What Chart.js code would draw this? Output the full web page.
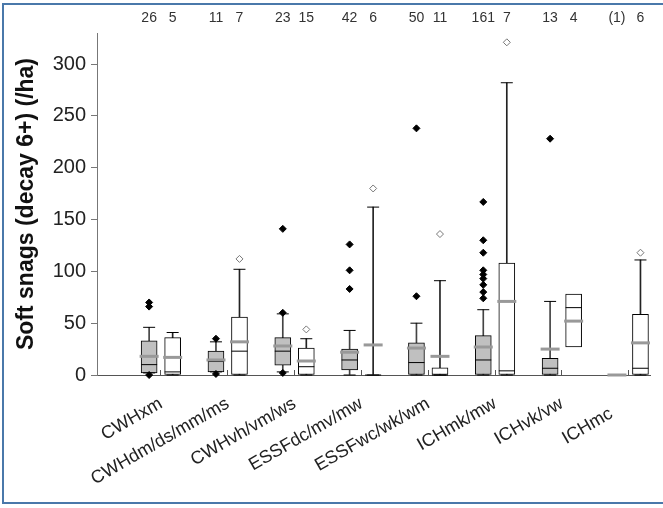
<!DOCTYPE html>
<html>
<head>
<meta charset="utf-8">
<script src="https://cdn.jsdelivr.net/npm/chart.js@4.4.1/dist/chart.umd.min.js"></script>
<style>
  html, body { margin: 0; padding: 0; background: #fff; overflow: hidden; }
  #wrap { position: relative; width: 663px; height: 508px; }
  #chart { position: absolute; left: 0; top: 0; }
  #frame {
    position: absolute; left: 2px; top: 3px; width: 720px; height: 497px;
    border: 2px solid #4a78aa; border-right: none; pointer-events: none;
  }
</style>
</head>
<body>
<div id="wrap">
  <canvas id="chart" width="663" height="508"></canvas>
  <div id="frame"></div>
</div>
<script>
// zone groups on the x axis (last one is pulled in a little, like the original)
const groups = ['CWHxm', 'CWHdm/ds/mm/ms', 'CWHvh/vm/ws', 'ESSFdc/mv/mw', 'ESSFwc/wk/wm', 'ICHmk/mw', 'ICHvk/vw', 'ICHmc    '];

// sample sizes printed above each box
const countsGrey = ['26', '11', '23', '42', '50', '161', '13', '(1)'];
const countsWhite = ['5', '7', '15', '6', '11', '7', '4', '6'];

// grey boxes
const greyQ1 = [2, 3, 9.6, 5, 0, 0, 0, null];
const greyQ3 = [33, 23, 36, 25, 31, 38, 16, null];
const greyMedian = [10, 13, 23, 14.5, 12, 14.5, 6.5, null];
const greyMean = [18, 14.5, 28, 22, 26, 27, 25, 0];
const greyLow = [2, 3, 3, 0, 0, 0, 0, null];
const greyHigh = [46, 32, 59, 43, 50, 63, 71, null];
const greyOutliers = [[66, 70, 0], [35, 1], [141, 60, 2], [83, 101, 126], [76, 238], [74, 80, 87, 93, 97, 101, 118, 130, 167], [228], []];

// white boxes
const whiteQ1 = [0, 0, 0, 0, 0, 0, 27, 0];
const whiteQ3 = [36, 56, 26, 0, 7, 108, 78, 58.5];
const whiteMedian = [3, 23, 8, 0, 0, 4, 65, 6.5];
const whiteMean = [17, 32, 13.5, 29, 18, 71, 52, 31];
const whiteLow = [0, 0, 0, 0, 0, 0, null, 0];
const whiteHigh = [41, 102, 35, 162, 91, 282, null, 111];
const whiteOutliers = [[], [112], [44], [180], [136], [321], [], [118]];

const yTicks = [0, 50, 100, 150, 200, 250, 300];

const SHIFT = 0.176;   // half distance between the two boxes of a group
const X_MIN = -0.956, X_MAX = 7.32;
const FONT = "'Liberation Sans', Arial, sans-serif";

const gx = i => i - SHIFT;
const wx = i => i + SHIFT;

function boxes(q1, q3, pos) {
  return q1.map((v, i) => v == null ? null : { x: pos(i), y: [v, q3[i]] }).filter(Boolean);
}
function whiskers(low, high, pos) {
  return low.map((v, i) => v == null ? null : { x: pos(i), y: [v, high[i]] }).filter(Boolean);
}
function points(vals, pos) {
  return vals.map((v, i) => v == null ? null : { x: pos(i), y: v }).filter(Boolean);
}
function outliers(list, pos) {
  const out = [];
  list.forEach((arr, i) => arr.forEach(v => out.push({ x: pos(i), y: v })));
  return out;
}

const topPositions = [];
const topLabels = [];
groups.forEach((g, i) => {
  topPositions.push(gx(i), wx(i));
  topLabels.push(countsGrey[i], countsWhite[i]);
});

const marker = (data, opts) => Object.assign({
  type: 'scatter', data, showLine: false, clip: false, order: 1,
  pointHoverRadius: 0
}, opts);

const ctx = document.getElementById('chart');
new Chart(ctx, {
  type: 'bar',
  data: {
    datasets: [
      { data: whiskers(greyLow, greyHigh, gx), backgroundColor: '#444', barThickness: 1, grouped: false, order: 10 },
      { data: whiskers(whiteLow, whiteHigh, wx), backgroundColor: '#222', barThickness: 1, grouped: false, order: 10 },
      { data: boxes(greyQ1, greyQ3, gx), backgroundColor: '#c0c0c0', borderColor: '#000', borderWidth: 1,
        borderSkipped: false, barThickness: 16, grouped: false, order: 5 },
      { data: boxes(whiteQ1, whiteQ3, wx), backgroundColor: '#fff', borderColor: '#000', borderWidth: 1,
        borderSkipped: false, barThickness: 16, grouped: false, order: 5 },
      marker(points(greyHigh, gx), { pointStyle: 'line', pointRadius: 6, pointBorderColor: '#000', pointBorderWidth: 1 }),
      marker(points(greyLow, gx), { pointStyle: 'line', pointRadius: 6, pointBorderColor: '#000', pointBorderWidth: 1 }),
      marker(points(whiteHigh, wx), { pointStyle: 'line', pointRadius: 6, pointBorderColor: '#000', pointBorderWidth: 1 }),
      marker(points(whiteLow, wx), { pointStyle: 'line', pointRadius: 6, pointBorderColor: '#000', pointBorderWidth: 1 }),
      marker(points(greyMedian, gx), { pointStyle: 'line', pointRadius: 8, pointBorderColor: '#000', pointBorderWidth: 1 }),
      marker(points(whiteMedian, wx), { pointStyle: 'line', pointRadius: 8, pointBorderColor: '#000', pointBorderWidth: 1 }),
      marker(points(greyMean, gx), { pointStyle: 'line', pointRadius: 9.5, pointBorderColor: '#999', pointBorderWidth: 3, order: 0 }),
      marker(points(whiteMean, wx), { pointStyle: 'line', pointRadius: 9.5, pointBorderColor: '#999', pointBorderWidth: 3, order: 0 }),
      marker(outliers(greyOutliers, gx), { pointStyle: 'rectRot', pointRadius: 3.5, pointBackgroundColor: '#000', pointBorderColor: '#000', pointBorderWidth: 1, order: 0 }),
      marker(outliers(whiteOutliers, wx), { pointStyle: 'rectRot', pointRadius: 3.5, pointBackgroundColor: '#fff', pointBorderColor: '#777', pointBorderWidth: 1, order: 0 })
    ]
  },
  options: {
    responsive: false,
    animation: false,
    devicePixelRatio: 1,
    events: [],
    layout: { padding: { left: 8, right: 3, top: 4, bottom: 6 } },
    plugins: { legend: { display: false }, tooltip: { enabled: false } },
    scales: {
      x: {
        type: 'linear', position: 'bottom', min: X_MIN, max: X_MAX, offset: false,
        afterBuildTicks: s => { s.ticks = groups.map((g, i) => ({ value: i })); },
        afterFit: s => { s.height = 127; },
        grid: { offset: false, drawOnChartArea: false, tickLength: -5, tickColor: '#555' },
        border: { color: '#555' },
        ticks: {
          autoSkip: false, minRotation: 30, maxRotation: 30, padding: 23,
          color: '#222', font: { family: FONT, size: 18 },
          callback: (v) => groups[v]
        }
      },
      x2: {
        type: 'linear', position: 'top', min: X_MIN, max: X_MAX, offset: false,
        afterBuildTicks: s => { s.ticks = topPositions.map(v => ({ value: v })); },
        afterFit: s => { s.height = 29; },
        grid: { display: false, drawTicks: false },
        border: { display: false },
        ticks: {
          autoSkip: false, maxRotation: 0, padding: 6,
          color: '#333', font: { family: FONT, size: 14 },
          callback: (v, i) => topLabels[i]
        }
      },
      y: {
        min: 0, max: 330,
        afterBuildTicks: s => { s.ticks = yTicks.map(v => ({ value: v })); },
        afterFit: s => { s.width = 89; },
        grid: { drawOnChartArea: false, tickLength: 6, tickColor: '#777' },
        border: { color: '#777' },
        title: {
          display: true, text: 'Soft snags (decay 6+) (/ha)',
          color: '#111', font: { family: FONT, size: 23, weight: 'bold' },
          padding: { top: 5, bottom: 0 }
        },
        ticks: { padding: 5, color: '#222', font: { family: FONT, size: 20 } }
      }
    }
  }
});
</script>
</body>
</html>
